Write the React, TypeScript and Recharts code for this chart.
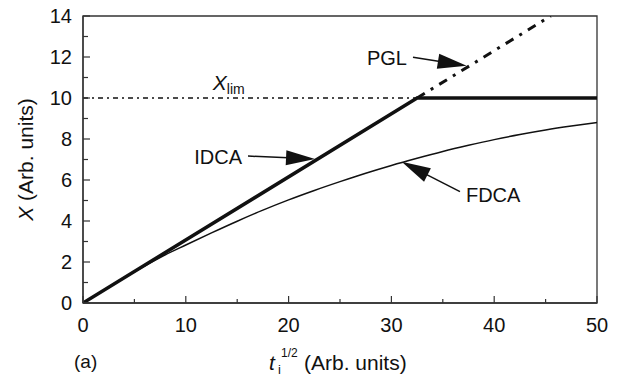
import React from 'react';
import {
  LineChart,
  Line,
  XAxis,
  YAxis,
  ReferenceLine,
  ReferenceArea,
  ReferenceDot,
  Label,
} from 'recharts';

const X_TICKS = [0, 5, 10, 15, 20, 25, 30, 35, 40, 45, 50];
const Y_TICKS = [0, 1, 2, 3, 4, 5, 6, 7, 8, 9, 10, 11, 12, 13, 14];

// ideal diffusion-controlled: linear then capped at Xlim
const IDCA_T = [0, 32.5, 50];
const IDCA_X = [0, 10, 10];

// parabolic growth law continuation
const PGL_T = [32.5, 45.5];
const PGL_X = [10, 14];

const XLIM_T = [0, 32.5];
const XLIM_X = [10, 10];

const FDCA_T = [0, 2.5, 5, 7.5, 10, 12.5, 15, 17.5, 20, 22.5, 25, 27.5, 30, 32.5, 35, 37.5, 40, 42.5, 45, 47.5, 50];
const FDCA_X = [0, 0.77, 1.52, 2.22, 2.83, 3.42, 3.99, 4.53, 5.03, 5.49, 5.92, 6.33, 6.71, 7.06, 7.39, 7.69, 7.97, 8.22, 8.44, 8.63, 8.8];

const zip = (ts: number[], xs: number[]) => ts.map((t, i) => ({ t, x: xs[i] }));

const idca = zip(IDCA_T, IDCA_X);
const pgl = zip(PGL_T, PGL_X);
const xlim = zip(XLIM_T, XLIM_X);
const fdca = zip(FDCA_T, FDCA_X);

const ARROWS = [
  { label: 'IDCA', from: { t: 16.05, x: 7.17 }, to: { t: 22.57, x: 7.02 }, side: 'left' },
  { label: 'PGL', from: { t: 32.1, x: 11.99 }, to: { t: 37.32, x: 11.57 }, side: 'left' },
  { label: 'FDCA', from: { t: 36.67, x: 5.43 }, to: { t: 31.0, x: 6.89 }, side: 'right' },
];

const INK = '#111';
const FONT = '"Liberation Sans", Arial, Helvetica, sans-serif';

// tickSize/tickMargin are 0, so the tick x/y passed in sit on the axis line
const renderXTick = (props: any) => {
  const { x, y, payload } = props;
  const major = payload.value % 10 === 0;
  return (
    <g key={`xt-${payload.value}`}>
      <line x1={x} x2={x} y1={y} y2={y - (major ? 7 : 4)} stroke="#333" strokeWidth={1.2} />
      {major && (
        <text x={x} y={y + 29} textAnchor="middle" fill={INK} fontSize={20} fontFamily={FONT}>
          {payload.value}
        </text>
      )}
    </g>
  );
};

const renderYTick = (props: any) => {
  const { x, y, payload } = props;
  const major = payload.value % 2 === 0;
  return (
    <g key={`yt-${payload.value}`}>
      <line x1={x} x2={x + (major ? 7 : 5)} y1={y} y2={y} stroke="#333" strokeWidth={1.2} />
      {major && (
        <text x={x - 11} y={y + 7} textAnchor="end" fill={INK} fontSize={20} fontFamily={FONT}>
          {payload.value}
        </text>
      )}
    </g>
  );
};

const Arrow = (props: any) => {
  const { x1, y1, x2, y2, text, side } = props;
  const dx = x2 - x1;
  const dy = y2 - y1;
  const len = Math.sqrt(dx * dx + dy * dy) || 1;
  const ux = dx / len;
  const uy = dy / len;
  const hl = 29;
  const hw = 7.5;
  const bx = x2 - ux * hl;
  const by = y2 - uy * hl;
  const pts = `${x2},${y2} ${bx - uy * hw},${by + ux * hw} ${bx + uy * hw},${by - ux * hw}`;
  const tx = side === 'left' ? x1 - 6 : x1 + 6;
  const ty = side === 'left' ? y1 + 8 : y1 + 10;
  return (
    <g>
      <line x1={x1} y1={y1} x2={bx + ux * 2} y2={by + uy * 2} stroke={INK} strokeWidth={1.5} />
      <polygon points={pts} fill={INK} />
      <text x={tx} y={ty} textAnchor={side === 'left' ? 'end' : 'start'} fill={INK} fontSize={20} fontFamily={FONT}>
        {text}
      </text>
    </g>
  );
};

const XlimLabel = (props: any) => {
  const { cx, cy } = props;
  return (
    <text x={cx - 8} y={cy - 8} fill={INK} fontFamily={FONT}>
      <tspan fontSize={21} fontStyle="italic">X</tspan>
      <tspan fontSize={14} dy={4}>lim</tspan>
    </text>
  );
};

const YTitle = (props: any) => {
  const vb = props.viewBox || {};
  const cx = (vb.x ?? 23) + 10;
  const cy = (vb.y ?? 16) + (vb.height ?? 287) / 2;
  return (
    <text x={cx} y={cy} transform={`rotate(-90, ${cx}, ${cy})`} textAnchor="middle" fill={INK} fontSize={21} fontFamily={FONT}>
      <tspan fontStyle="italic">X</tspan>
      <tspan> (Arb. units)</tspan>
    </text>
  );
};

const XTitle = (props: any) => {
  const vb = props.viewBox || {};
  const cx = (vb.x ?? 83) + (vb.width ?? 514) / 2;
  const base = (vb.y ?? 303) + 67;
  const sx = cx - 71;
  return (
    <g fill={INK} fontFamily={FONT}>
      <text x={sx} y={base} fontSize={21} fontStyle="italic">t</text>
      <text x={sx + 9} y={base + 4} fontSize={13}>i</text>
      <text x={sx + 12} y={base - 13} fontSize={12}>1/2</text>
      <text x={sx + 35} y={base} fontSize={21}>(Arb. units)</text>
      <text x={74} y={base - 2} fontSize={19}>(a)</text>
    </g>
  );
};

export default function App() {
  return (
    <div style={{ position: 'absolute', left: 0, top: 0, width: 621, height: 377, background: '#fff', fontFamily: FONT }}>
      <LineChart width={621} height={377} margin={{ top: 16, right: 24, bottom: 14, left: 23 }}>
        <XAxis
          dataKey="t"
          type="number"
          domain={[0, 50]}
          ticks={X_TICKS}
          interval={0}
          height={60}
          tickSize={0}
          tickMargin={0}
          tickLine={false}
          tick={renderXTick}
          axisLine={{ stroke: '#333', strokeWidth: 1.3 }}
          allowDataOverflow
        >
          <Label content={<XTitle />} />
        </XAxis>
        <YAxis
          dataKey="x"
          type="number"
          domain={[0, 14]}
          ticks={Y_TICKS}
          interval={0}
          width={60}
          tickSize={0}
          tickMargin={0}
          tickLine={false}
          tick={renderYTick}
          axisLine={{ stroke: '#333', strokeWidth: 1.3 }}
          allowDataOverflow
        >
          <Label content={<YTitle />} />
        </YAxis>

        <ReferenceArea x1={0} x2={50} y1={0} y2={14} fill="none" stroke="#333" strokeWidth={1.3} />

        <Line data={xlim} dataKey="x" type="linear" stroke={INK} strokeWidth={1.6} strokeDasharray="5 4 2 4" dot={false} isAnimationActive={false} />
        <Line data={fdca} dataKey="x" type="monotone" stroke={INK} strokeWidth={1.5} dot={false} isAnimationActive={false} />
        <Line data={pgl} dataKey="x" type="linear" stroke={INK} strokeWidth={3} strokeDasharray="9 7 3 7" dot={false} isAnimationActive={false} />
        <Line data={idca} dataKey="x" type="linear" stroke={INK} strokeWidth={3.5} dot={false} isAnimationActive={false} />

        <ReferenceDot x={13.4} y={10} r={0} shape={<XlimLabel />} />

        {ARROWS.map((a) => (
          <ReferenceLine
            key={a.label}
            segment={[
              { x: a.from.t, y: a.from.x },
              { x: a.to.t, y: a.to.x },
            ]}
            shape={(p: any) => <Arrow {...p} text={a.label} side={a.side} />}
          />
        ))}
      </LineChart>
    </div>
  );
}
